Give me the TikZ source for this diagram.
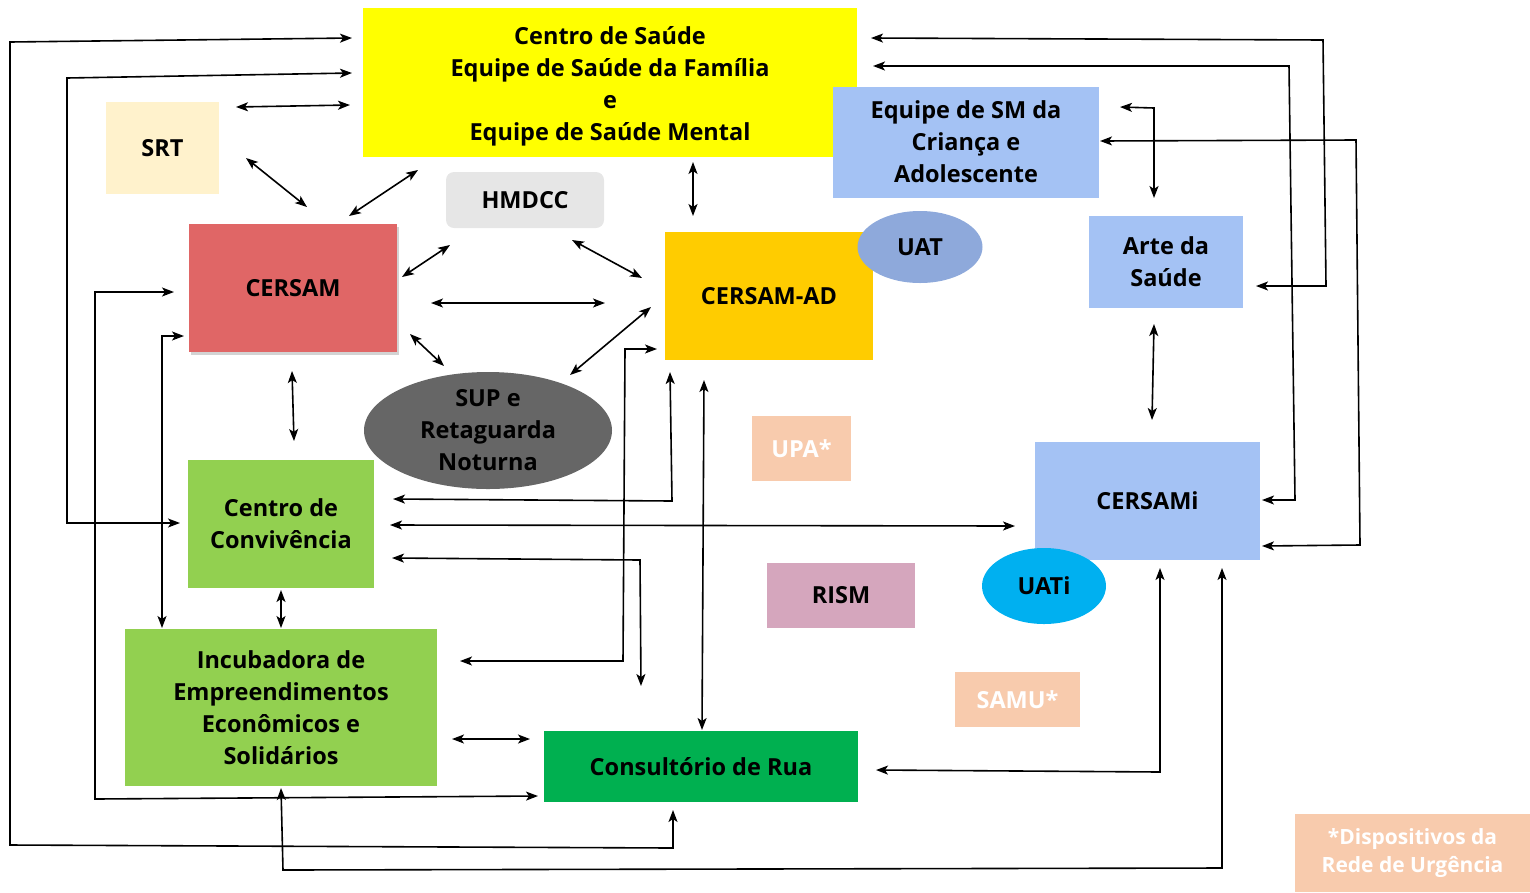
\documentclass[tikz,border=0pt]{standalone}
\usepackage{fontspec}
\setmainfont{Open Sans}
\usetikzlibrary{arrows.meta,shapes.geometric,shadows}
\definecolor{cYellow}{HTML}{FFFF00}
\definecolor{cSRT}{HTML}{FFF2CC}
\definecolor{cGray}{HTML}{E6E6E6}
\definecolor{cRed}{HTML}{E06666}
\definecolor{cGold}{HTML}{FFCC00}
\definecolor{cUAT}{HTML}{8EA9DB}
\definecolor{cBlue}{HTML}{A4C2F4}
\definecolor{cUATi}{HTML}{00B0F0}
\definecolor{cPeach}{HTML}{F8CBAD}
\definecolor{cRISM}{HTML}{D5A6BD}
\definecolor{cSUP}{HTML}{666666}
\definecolor{cLime}{HTML}{92D050}
\definecolor{cGreen}{HTML}{00B050}
\begin{document}
\begin{tikzpicture}[x=1pt,y=-1pt,
  box/.style={inner sep=0pt, align=center, font=\bfseries\fontsize{23.5}{32}\selectfont, text=black},
  wbox/.style={box, text=white},
  oval/.style={box, ellipse},
  tip/.tip={Stealth[length=12pt,width=9pt,inset=3pt]},
  both/.style={line width=1.6pt, tip-tip},
]
\useasboundingbox (0,0) rectangle (1530,892);

% ---------- nodes ----------
\node[box, fill=cYellow, minimum width=494pt, minimum height=149pt] (cs) at (610,82.5) {};
\node[box] (csText) at (610,86)
  {Centro de Saúde\\Equipe de Saúde da Família\\e\\Equipe de Saúde Mental};
\node[box, fill=cSRT, minimum width=113pt, minimum height=92pt] (srt) at (162.5,148) {SRT};
\node[box, fill=cGray, rounded corners=8pt, minimum width=158pt, minimum height=56pt] (hmdcc) at (525,200) {HMDCC};
\node[box, fill=cRed, minimum width=208pt, minimum height=128pt,
  drop shadow={shadow xshift=2pt, shadow yshift=-3pt, opacity=0.35}] (cersam) at (293,288) {CERSAM};
\node[box, fill=cGold, minimum width=208pt, minimum height=128pt] (cad) at (769,296) {CERSAM-AD};
\node[oval, fill=cUAT, minimum width=125pt, minimum height=72pt] (uat) at (920,247) {UAT};
\node[box, fill=cBlue, minimum width=266pt, minimum height=111pt] (sm) at (966,142)
  {Equipe de SM da\\Criança e\\Adolescente};
\node[box, fill=cBlue, minimum width=154pt, minimum height=92pt] (arte) at (1166,262) {Arte da\\Saúde};
\node[box, fill=cBlue, minimum width=225pt, minimum height=118pt] (cersami) at (1147.5,501) {CERSAMi};
\node[oval, fill=cUATi, minimum width=124pt, minimum height=76pt] (uati) at (1044,586) {UATi};
\node[wbox, fill=cPeach, minimum width=99pt, minimum height=65pt] (upa) at (801.5,448.5) {UPA*};
\node[box, fill=cRISM, minimum width=148pt, minimum height=65pt] (rism) at (841,595.5) {RISM};
\node[wbox, fill=cPeach, minimum width=125pt, minimum height=55pt] (samu) at (1017.5,699.5) {SAMU*};
\node[wbox, fill=cPeach, minimum width=235pt, minimum height=78pt,
  font=\bfseries\fontsize{21}{28}\selectfont] (leg) at (1412.5,853) {*Dispositivos da\\Rede de Urgência};
\node[oval, fill=cSUP, minimum width=248pt, minimum height=117pt] (sup) at (488,430.5)
  {SUP e\\Retaguarda\\Noturna};
\node[box, fill=cLime, minimum width=186pt, minimum height=128pt] (conv) at (281,524)
  {Centro de\\Convivência};
\node[box, fill=cLime, minimum width=312pt, minimum height=157pt] (incub) at (281,707.5)
  {Incubadora de\\Empreendimentos\\Econômicos e\\Solidários};
\node[box, fill=cGreen, minimum width=314pt, minimum height=71pt] (rua) at (701,766.5) {Consultório de Rua};

% ---------- connector end points ----------
\coordinate (csA) at (352,38);   \coordinate (ruaA) at (673,810);
\coordinate (csB) at (352,73);   \coordinate (convA) at (180,523);
\coordinate (srtA) at (236,107); \coordinate (csC) at (350,105);
\coordinate (srtB) at (246,158); \coordinate (cersamA) at (307,207);
\coordinate (cersamB) at (349,216); \coordinate (csD) at (418,170);
\coordinate (csE) at (693,162);  \coordinate (cadA) at (693,216);
\coordinate (cersamC) at (402,277); \coordinate (hmA) at (450,245);
\coordinate (hmB) at (572,240);  \coordinate (cadB) at (642,278);
\coordinate (cersamD) at (431,303); \coordinate (cadC) at (605,303);
\coordinate (cersamE) at (410,334); \coordinate (supA) at (444,366);
\coordinate (supB) at (570,375); \coordinate (cadD) at (651,307);
\coordinate (cersamF) at (292,371); \coordinate (convB) at (294,441);
\coordinate (cersamG) at (174,292); \coordinate (ruaB) at (538,796);
\coordinate (cersamH) at (184,336); \coordinate (incA) at (162,628);
\coordinate (convC) at (281,590); \coordinate (incB) at (281,628);
\coordinate (convD) at (393,499); \coordinate (cadE) at (670,372);
\coordinate (convE) at (390,525); \coordinate (cersamiA) at (1015,526);
\coordinate (convF) at (392,558); \coordinate (freeA) at (641,686);
\coordinate (incC) at (460,661);  \coordinate (cadF) at (657,349);
\coordinate (incD) at (452,739);  \coordinate (ruaC) at (530,739);
\coordinate (cadG) at (704,380);  \coordinate (ruaD) at (702,730);
\coordinate (incE) at (281,788);  \coordinate (cersamiB) at (1222,568);
\coordinate (ruaE) at (876,770);  \coordinate (cersamiC) at (1160,568);
\coordinate (csF) at (871,38);    \coordinate (arteA) at (1256,286);
\coordinate (csG) at (873,66);    \coordinate (cersamiD) at (1262,500);
\coordinate (smA) at (1100,141);  \coordinate (cersamiE) at (1262,546);
\coordinate (smB) at (1120,107);  \coordinate (arteB) at (1154,198);
\coordinate (arteC) at (1154,324); \coordinate (cersamiF) at (1152,420);

% ---------- connectors ----------
\draw[both] (csA) -- (10,42) -- (10,845) -- (673,848) -- (ruaA);
\draw[both] (csB) -- (67,78) -- (67,523) -- (convA);
\draw[both] (srtA) -- (csC);
\draw[both] (srtB) -- (cersamA);
\draw[both] (cersamB) -- (csD);
\draw[both] (csE) -- (cadA);
\draw[both] (cersamC) -- (hmA);
\draw[both] (hmB) -- (cadB);
\draw[both] (cersamD) -- (cadC);
\draw[both] (cersamE) -- (supA);
\draw[both] (supB) -- (cadD);
\draw[both] (cersamF) -- (convB);
\draw[both] (cersamG) -- (95,292) -- (95,799) -- (ruaB);
\draw[both] (cersamH) -- (162,336) -- (incA);
\draw[both] (convC) -- (incB);
\draw[both] (convD) -- (672,501) -- (cadE);
\draw[both] (convE) -- (cersamiA);
\draw[both] (convF) -- (640,560) -- (freeA);
\draw[both] (incC) -- (623,661) -- (625,349) -- (cadF);
\draw[both] (incD) -- (ruaC);
\draw[both] (cadG) -- (ruaD);
\draw[both] (incE) -- (283,870) -- (1222,868) -- (cersamiB);
\draw[both] (ruaE) -- (1160,772) -- (cersamiC);
\draw[both] (csF) -- (1323,40) -- (1326,286) -- (arteA);
\draw[both] (csG) -- (1289,66) -- (1295,500) -- (cersamiD);
\draw[both] (smA) -- (1356,140) -- (1360,545) -- (cersamiE);
\draw[both] (smB) -- (1154,108) -- (arteB);
\draw[both] (arteC) -- (cersamiF);
\end{tikzpicture}
\end{document}
